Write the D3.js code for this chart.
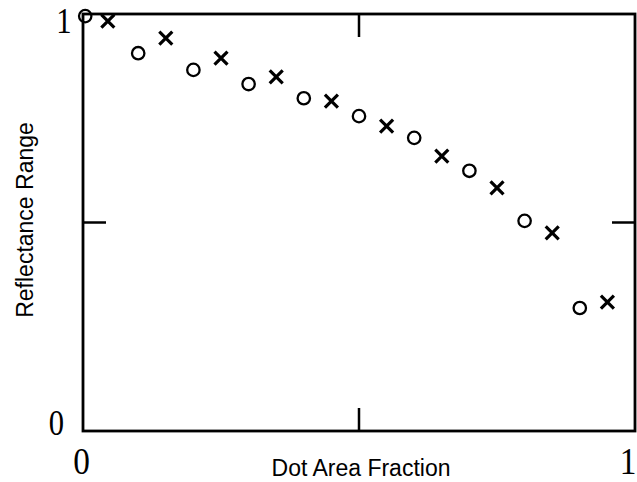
<!DOCTYPE html>
<html><head><meta charset="utf-8">
<script src="https://cdn.jsdelivr.net/npm/d3@7/dist/d3.min.js"></script>
<style>body{margin:0;background:#fff;} svg{display:block}</style>
</head><body><svg width="637" height="482"></svg>
<script>
// series: circles
const circleX = [0.004, 0.1, 0.2, 0.3, 0.4, 0.5, 0.6, 0.7, 0.8, 0.9];
const circleY = [0.995, 0.906, 0.866, 0.832, 0.798, 0.755, 0.703, 0.624, 0.504, 0.295];
// series: crosses
const crossX = [0.045, 0.15, 0.25, 0.35, 0.45, 0.55, 0.65, 0.75, 0.85, 0.95];
const crossY = [0.983, 0.942, 0.894, 0.849, 0.791, 0.731, 0.659, 0.583, 0.475, 0.309];
// ticks
const xTickMarks = [0.5];
const yTickMarks = [0.5];
const xTickValues = [0, 1];
const xTickLabels = ["0", "1"];
const yTickValues = [0, 1];
const yTickLabels = ["0", "1"];
const xTitle = "Dot Area Fraction";
const yTitle = "Reflectance Range";

const svg = d3.select("svg");
const x = d3.scaleLinear().domain([0, 1]).range([83, 635]);
const y = d3.scaleLinear().domain([0, 1]).range([431, 14]);

// frame
svg.append("rect")
  .attr("x", x(0)).attr("y", y(1))
  .attr("width", x(1) - x(0)).attr("height", y(0) - y(1))
  .attr("fill", "none").attr("stroke", "#000").attr("stroke-width", 2.8);

// inward ticks
const tl = 23;
xTickMarks.forEach(v => {
  svg.append("line").attr("x1", x(v)).attr("x2", x(v)).attr("y1", y(1)).attr("y2", y(1) + tl)
    .attr("stroke", "#000").attr("stroke-width", 2.5);
  svg.append("line").attr("x1", x(v)).attr("x2", x(v)).attr("y1", y(0)).attr("y2", y(0) - tl)
    .attr("stroke", "#000").attr("stroke-width", 2.5);
});
yTickMarks.forEach(v => {
  svg.append("line").attr("x1", x(0)).attr("x2", x(0) + tl).attr("y1", y(v)).attr("y2", y(v))
    .attr("stroke", "#000").attr("stroke-width", 2.5);
  svg.append("line").attr("x1", x(1)).attr("x2", x(1) - tl).attr("y1", y(v)).attr("y2", y(v))
    .attr("stroke", "#000").attr("stroke-width", 2.5);
});

// tick labels (serif, narrow)
const serif = "'Liberation Serif','Times New Roman',serif";
const yOff = [4, 19];
const yLabX = [56.5, 64];
yTickValues.forEach((v, i) => {
  svg.append("text")
    .attr("transform", `translate(${yLabX[i]},${y(v) + yOff[i]}) scale(0.85,1)`)
    .attr("text-anchor", "middle").attr("font-family", serif).attr("font-size", 36)
    .text(yTickLabels[i]);
});
const xLabOff = [-1.5, -7];
xTickValues.forEach((v, i) => {
  svg.append("text")
    .attr("transform", `translate(${x(v) + xLabOff[i]},474) scale(0.9,1)`)
    .attr("text-anchor", "middle").attr("font-family", serif).attr("font-size", 37)
    .text(xTickLabels[i]);
});

// titles
const sans = "'Liberation Sans',Arial,sans-serif";
svg.append("text").attr("x", 361).attr("y", 476)
  .attr("text-anchor", "middle").attr("font-family", sans).attr("font-size", 23)
  .text(xTitle);
svg.append("text").attr("transform", "translate(33,220) rotate(-90)")
  .attr("text-anchor", "middle").attr("font-family", sans).attr("font-size", 23)
  .text(yTitle);

// circles
svg.append("g").selectAll("circle").data(circleX).join("circle")
  .attr("cx", (d) => x(d)).attr("cy", (d, i) => y(circleY[i]))
  .attr("r", 6.2).attr("fill", "none").attr("stroke", "#000").attr("stroke-width", 2.3);

// crosses
const h = 6.5;
svg.append("g").selectAll("path").data(crossX).join("path")
  .attr("d", (d, i) => {
    const cx = x(d), cy = y(crossY[i]);
    return `M${cx - h},${cy - h}L${cx + h},${cy + h}M${cx - h},${cy + h}L${cx + h},${cy - h}`;
  })
  .attr("fill", "none").attr("stroke", "#000").attr("stroke-width", 3.2);
</script></body></html>
